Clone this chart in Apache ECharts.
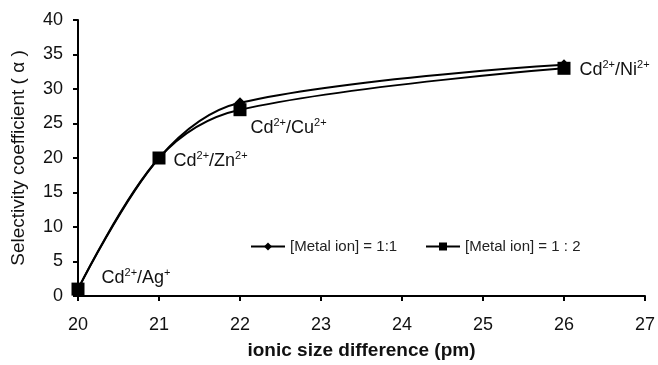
<!DOCTYPE html>
<html><head><meta charset="utf-8">
<script src="https://cdn.jsdelivr.net/npm/echarts@6/dist/echarts.min.js"></script>
<style>html,body{margin:0;padding:0;background:#fff}#c{width:658px;height:365px}</style>
</head><body><div id="c"></div>
<script>
const xValues = [20, 21, 22, 26];
const series11 = [1, 20, 28, 33.5];
const series12 = [1, 20, 27, 33];
const seriesNames = ['[Metal ion] = 1:1', '[Metal ion] = 1 : 2'];
const pairLabels = [
  ['Cd', '2+', '/Ag', '+'],
  ['Cd', '2+', '/Zn', '2+'],
  ['Cd', '2+', '/Cu', '2+'],
  ['Cd', '2+', '/Ni', '2+']
];
const labelPos = [
  {position: 'right', offset: [12, -11]},
  {position: 'right', offset: [3, 3]},
  {position: 'right', offset: [-1, 18]},
  {position: 'right', offset: [4, 2]}
];
const font = '"Liberation Sans", Arial, sans-serif';
const rich = {
  b: {fontSize: 18, fontFamily: font, color: '#111'},
  s: {fontSize: 11, fontFamily: font, color: '#111', verticalAlign: 'top', padding: [0,0,10,0]}
};
function fmtLabel(p) {
  return '{b|' + p[0] + '}{s|' + p[1] + '}{b|' + p[2] + '}{s|' + p[3] + '}';
}
const legendBase = {
  top: 234, itemWidth: 34, itemHeight: 10, itemGap: 8,
  textStyle: {fontSize: 15, fontFamily: font, color: '#222'}
};
const chart = echarts.init(document.getElementById('c'));
chart.setOption({
  animation: false,
  backgroundColor: '#fff',
  grid: {left: 78, right: 12, top: 20, bottom: 69},
  legend: [
    Object.assign({left: 245, data: [seriesNames[0]]}, legendBase),
    Object.assign({left: 420, data: [seriesNames[1]]}, legendBase)
  ],
  xAxis: {
    type: 'value', min: 20, max: 27, interval: 1,
    name: 'ionic size difference (pm)', nameLocation: 'middle', nameGap: 45,
    nameTextStyle: {fontSize: 19, fontWeight: 'bold', fontFamily: font, color: '#111'},
    axisLine: {lineStyle: {color: '#000', width: 2}},
    axisTick: {show: true, length: 5, lineStyle: {color: '#000', width: 2}},
    axisLabel: {fontSize: 18, fontFamily: font, color: '#111', margin: 20},
    splitLine: {show: false}
  },
  yAxis: {
    type: 'value', min: 0, max: 40, interval: 5,
    name: 'Selectivity coefficient ( α )', nameLocation: 'middle', nameGap: 50,
    nameTextStyle: {fontSize: 19, fontFamily: font, color: '#111'},
    axisLine: {show: true, lineStyle: {color: '#000', width: 2}},
    axisTick: {show: true, length: 5, lineStyle: {color: '#000', width: 2}},
    axisLabel: {fontSize: 18, fontFamily: font, color: '#111', margin: 15},
    splitLine: {show: false}
  },
  series: [
    {
      name: seriesNames[0], type: 'line', smooth: 0.35,
      data: xValues.map((x, i) => [x, series11[i]]),
      symbol: 'diamond', symbolSize: 11,
      lineStyle: {color: '#000', width: 2}, itemStyle: {color: '#000'}
    },
    {
      name: seriesNames[1], type: 'line', smooth: 0.35,
      data: xValues.map((x, i) => ({
        value: [x, series12[i]],
        label: Object.assign({show: true, formatter: fmtLabel(pairLabels[i]), rich: rich}, labelPos[i])
      })),
      symbol: 'rect', symbolSize: 13,
      lineStyle: {color: '#000', width: 2}, itemStyle: {color: '#000'}
    }
  ]
});
</script></body></html>
